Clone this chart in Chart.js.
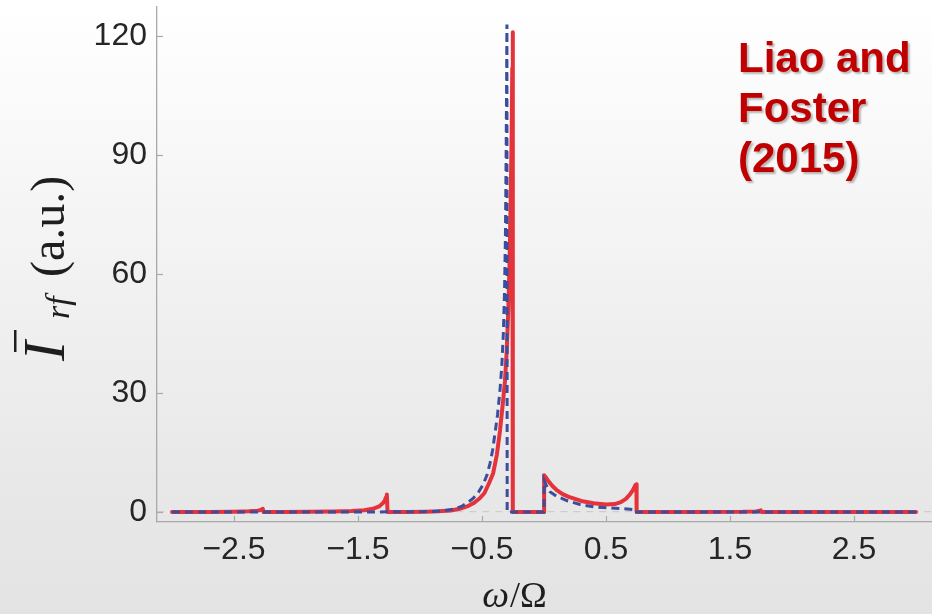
<!DOCTYPE html>
<html><head><meta charset="utf-8">
<script src="https://cdn.jsdelivr.net/npm/chart.js@4"></script>
<style>
html,body{margin:0;padding:0;}
body{width:932px;height:614px;overflow:hidden;position:relative;
background:linear-gradient(180deg,#ffffff 0%,#fdfdfd 8%,#f3f3f3 40%,#e9e9e9 75%,#e3e3e3 100%);}
#c{position:absolute;left:0;top:0;}
#note{position:absolute;left:738px;top:33px;font:bold 42px/50px Arial,"Liberation Sans",sans-serif;color:#c00000;
text-shadow:2px 2px 2px rgba(0,0,0,0.28);white-space:nowrap;}
</style></head><body>
<canvas id="c" width="932" height="614"></canvas>
<div id="note">Liao and<br>Foster<br>(2015)</div>
<script>
// ---- data ----
const omegaRed = [-3.0,-2.7,-2.5,-2.38,-2.31,-2.285,-2.268,-2.262,-2.1,-1.9,-1.7,-1.55,-1.45,-1.38,-1.33,-1.3,-1.285,-1.274,-1.267,-1.262,
  -1.1,-0.95,-0.85,-0.75,-0.68,-0.62,-0.57,-0.52,-0.48,-0.44,-0.41,-0.38,-0.355,-0.33,-0.315,-0.3,-0.288,-0.278,-0.268,-0.26,-0.256,-0.252,-0.251,
  0.0,0.001,0.02,0.04,0.07,0.1,0.15,0.2,0.3,0.4,0.5,0.57,0.62,0.66,0.69,0.71,0.725,0.737,0.745,0.747,
  1.2,1.6,1.71,1.74,1.748,1.752,2.3,3.0];
const intensityRed = [0,0.03,0.08,0.18,0.35,0.5,0.8,0,0.02,0.06,0.12,0.25,0.45,0.8,1.4,2.2,2.9,3.7,4.4,0,
  0.02,0.08,0.18,0.4,0.8,1.4,2.2,3.4,4.8,7.5,9.8,14.5,20.5,28,33,41,51,63,80,98,112,121,0,
  0,9.3,8.5,7.6,6.5,5.6,4.5,3.8,2.8,2.2,1.9,2.0,2.5,3.3,4.3,5.2,6.0,6.8,7.0,0,
  0,0.05,0.15,0.3,0.4,0,0,0];
const omegaBlue = [-3.0,-1.5,-1.1,-0.9,-0.8,-0.72,-0.66,-0.61,-0.57,-0.53,-0.49,-0.46,-0.435,-0.415,-0.395,-0.375,-0.355,-0.34,-0.328,-0.318,-0.311,-0.306,-0.302,-0.299,-0.297,
  0.0,0.001,0.02,0.048,0.1,0.183,0.29,0.4,0.505,0.613,0.694,0.718,0.72,3.0];
const intensityBlue = [0,0.02,0.05,0.15,0.35,0.75,1.5,2.5,3.5,4.9,7.0,9.3,12.3,15.5,19.9,24.5,30.7,37,45,56,70,88,106,123,0,
  0,8.0,6.6,5.1,4.0,2.9,1.9,1.3,1.1,0.9,0.7,0.65,0,0];
const xTickValues = [-2.5,-1.5,-0.5,0.5,1.5,2.5];
const xTickLabels = ["\u22122.5","\u22121.5","\u22120.5","0.5","1.5","2.5"];
const yTickValues = [0,30,60,90,120];
const yTickLabels = ["0","30","60","90","120"];

const toPoints = (xs, ys) => xs.map((x, i) => ({x: x, y: ys[i]}));

const axisGray = '#a9a9a9';
const tickFont = {family: 'Arial, "Liberation Sans", sans-serif', size: 32};

const decorPlugin = {
  id: 'decor',
  afterDraw(chart) {
    const ctx = chart.ctx;
    const {left, bottom} = chart.chartArea;
    const xs = chart.scales.x, ys = chart.scales.y;
    ctx.save();
    ctx.strokeStyle = axisGray; ctx.lineWidth = 1.2;
    xs.ticks.forEach(t => {
      const px = Math.round(xs.getPixelForValue(t.value)) + 0.5;
      ctx.beginPath(); ctx.moveTo(px, bottom); ctx.lineTo(px, bottom - 6); ctx.stroke();
    });
    ys.ticks.forEach(t => {
      const py = Math.round(ys.getPixelForValue(t.value)) + 0.5;
      ctx.beginPath(); ctx.moveTo(left, py); ctx.lineTo(left + 6, py); ctx.stroke();
    });
    ctx.restore();

    // x-axis title: omega / Omega
    ctx.save();
    ctx.fillStyle = '#1e1e1e';
    ctx.textBaseline = 'alphabetic';
    ctx.textAlign = 'left';
    ctx.font = 'italic 38px "Liberation Serif", serif';
    const w1 = ctx.measureText('\u03C9').width;
    ctx.font = '36px "Liberation Serif", serif';
    const w2 = ctx.measureText('/\u03A9').width;
    const x0 = 514 - (w1 + w2) / 2;
    ctx.font = 'italic 38px "Liberation Serif", serif';
    ctx.fillText('\u03C9', x0, 607);
    ctx.font = '36px "Liberation Serif", serif';
    ctx.fillText('/\u03A9', x0 + w1 + 1, 607);
    ctx.restore();

    // y-axis title: I-bar_rf (a.u.)
    ctx.save();
    ctx.translate(64, 363);
    ctx.rotate(-Math.PI / 2);
    ctx.fillStyle = '#1e1e1e';
    ctx.textBaseline = 'alphabetic';
    ctx.textAlign = 'left';
    ctx.font = 'italic 60px "Liberation Serif", serif';
    ctx.fillText('I', 2, 0);
    ctx.fillRect(11, -50, 22, 2.5);
    ctx.font = 'italic 34px "Liberation Serif", serif';
    ctx.fillText('rf', 44, 5);
    ctx.font = '48px "Liberation Serif", serif';
    ctx.fillText('(a.u.)', 86, 0);
    ctx.restore();
  }
};

new Chart(document.getElementById('c'), {
  type: 'line',
  data: {
    datasets: [
      {label: 'blue', data: toPoints(omegaBlue, intensityBlue), borderColor: '#3b4e9e', borderWidth: 3,
       borderDash: [8, 5], pointRadius: 0, tension: 0, fill: false, order: 0},
      {label: 'red', data: toPoints(omegaRed, intensityRed), borderColor: '#e5333b', borderWidth: 4,
       borderJoinStyle: 'round', borderCapStyle: 'round', pointRadius: 0, tension: 0, fill: false, order: 1}
    ]
  },
  options: {
    responsive: false,
    animation: false,
    devicePixelRatio: 1,
    layout: {padding: {top: 7, right: 0, left: 0, bottom: 0}},
    plugins: {legend: {display: false}, tooltip: {enabled: false}},
    scales: {
      x: {
        type: 'linear', min: -3.121, max: 3.129,
        afterBuildTicks: s => { s.ticks = xTickValues.map(v => ({value: v})); },
        afterFit: s => { s.height = 92; s.paddingLeft = 0; s.paddingRight = 0; },
        grid: {display: false, drawTicks: false},
        border: {display: true, color: axisGray, width: 1.3},
        ticks: {font: tickFont, color: '#262626', padding: 9, maxRotation: 0, autoSkip: false,
          callback: (v) => { const i = xTickValues.indexOf(v); return i >= 0 ? xTickLabels[i] : ''; }}
      },
      y: {
        type: 'linear', min: -2.52, max: 127.4,
        afterBuildTicks: s => { s.ticks = yTickValues.map(v => ({value: v})); },
        afterFit: s => { s.width = 157; s.paddingTop = 0; s.paddingBottom = 0; },
        grid: {drawTicks: false, lineWidth: 1.3,
          color: c => (c.tick && c.tick.value === 0) ? '#cdcdcd' : 'rgba(0,0,0,0)'},
        border: {display: true, color: axisGray, width: 1.3, dash: [7, 6]},
        ticks: {font: tickFont, color: '#262626', padding: 10, autoSkip: false,
          callback: (v) => { const i = yTickValues.indexOf(v); return i >= 0 ? yTickLabels[i] : ''; }}
      }
    }
  },
  plugins: [decorPlugin]
});
</script>
</body></html>
